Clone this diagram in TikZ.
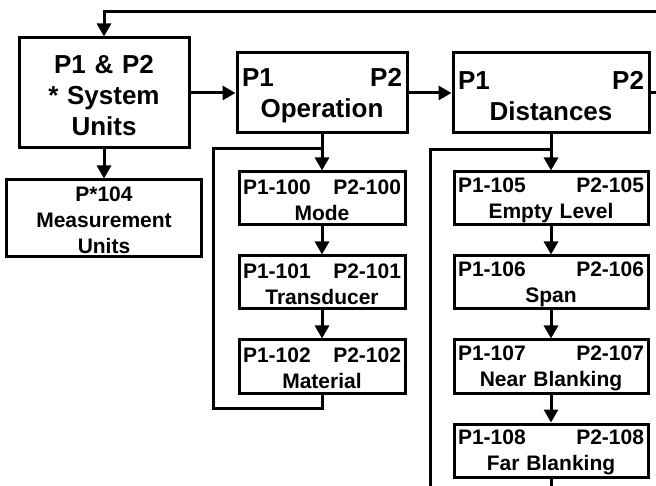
\documentclass[tikz,border=0pt]{standalone}
\usepackage{fontspec}
\setmainfont{Liberation Sans}
\usetikzlibrary{positioning, arrows.meta}

\begin{document}
\begin{tikzpicture}[
        x = 1pt, y = -1pt,
        node distance = 28pt,
        block/.style      = {rectangle, draw, line width=3pt, align=center,
                             inner xsep=5pt, inner ysep=0pt, minimum height=80pt,
                             font=\bfseries\fontsize{26}{31}\selectfont,
                             execute at begin node={\rule{0pt}{24pt}}},
        smallblock/.style = {rectangle, draw, line width=3pt, align=center,
                             inner xsep=4pt, inner ysep=0pt, minimum height=53pt,
                             font=\bfseries\fontsize{21}{26}\selectfont,
                             execute at begin node={\rule{0pt}{19pt}}},
        line/.style       = {draw, line width=3pt, -{Triangle[length=13pt, width=14pt]}},
        wire/.style       = {draw, line width=3pt}
    ]
        \useasboundingbox (0,0) rectangle (656,486);

        % nodes
        \node [block, text width=160pt, minimum height=110pt] (sys) at (104,93) {P1 \& P2\\{*}~System\\Units};
        \node [smallblock, text width=187pt, minimum height=77pt, below=29pt of sys] (units) {P*104\\Measurement\\Units};
        \node [block, text width=160pt, right=45pt of sys]   (op)   {P1\hfill P2\\Operation};
        \node [block, text width=186pt, right=43pt of op]    (dist) {P1\hfill P2\\Distances};

        \node [smallblock, text width=158pt, below=36pt of op] (mode)  {P1-100\hfill P2-100\\Mode};
        \node [smallblock, text width=158pt, below=of mode]    (trans) {P1-101\hfill P2-101\\Transducer};
        \node [smallblock, text width=158pt, below=of trans]   (mat)   {P1-102\hfill P2-102\\Material};

        \node [smallblock, text width=186pt, below=36pt of dist] (empty) {P1-105\hfill P2-105\\Empty Level};
        \node [smallblock, text width=186pt, below=of empty]     (span)  {P1-106\hfill P2-106\\Span};
        \node [smallblock, text width=186pt, below=of span]      (near)  {P1-107\hfill P2-107\\Near Blanking};
        \node [smallblock, text width=186pt, below=of near]      (far)   {P1-108\hfill P2-108\\Far Blanking};

        \coordinate (topright)   at (656,12);
        \coordinate (rightedge)  at (656,0);
        \coordinate (bottomedge) at (0,486);
        \coordinate (oploop)     at (213,149);
        \coordinate (distloop)   at (430,150);

        % arrows
        \path [line] (topright) -| (sys.north);
        \path [line] (sys)   -- (op);
        \path [line] (op)    -- (dist);
        \path [wire] (dist.east) -- (dist.east -| rightedge);
        \path [line] (sys)   -- (units);
        \path [line] (op)    -- (mode);
        \path [line] (mode)  -- (trans);
        \path [line] (trans) -- (mat);
        \path [line] (dist)  -- (empty);
        \path [line] (empty) -- (span);
        \path [line] (span)  -- (near);
        \path [line] (near)  -- (far);
        \path [wire] (mat.south) -- ++(0,14) -| (oploop) -- (oploop -| mat.south);
        \path [wire] (far.south) -- (far.south |- bottomedge);
        \path [wire] (distloop |- bottomedge) -- (distloop) -- (distloop -| far.south);
    \end{tikzpicture}
\end{document}
